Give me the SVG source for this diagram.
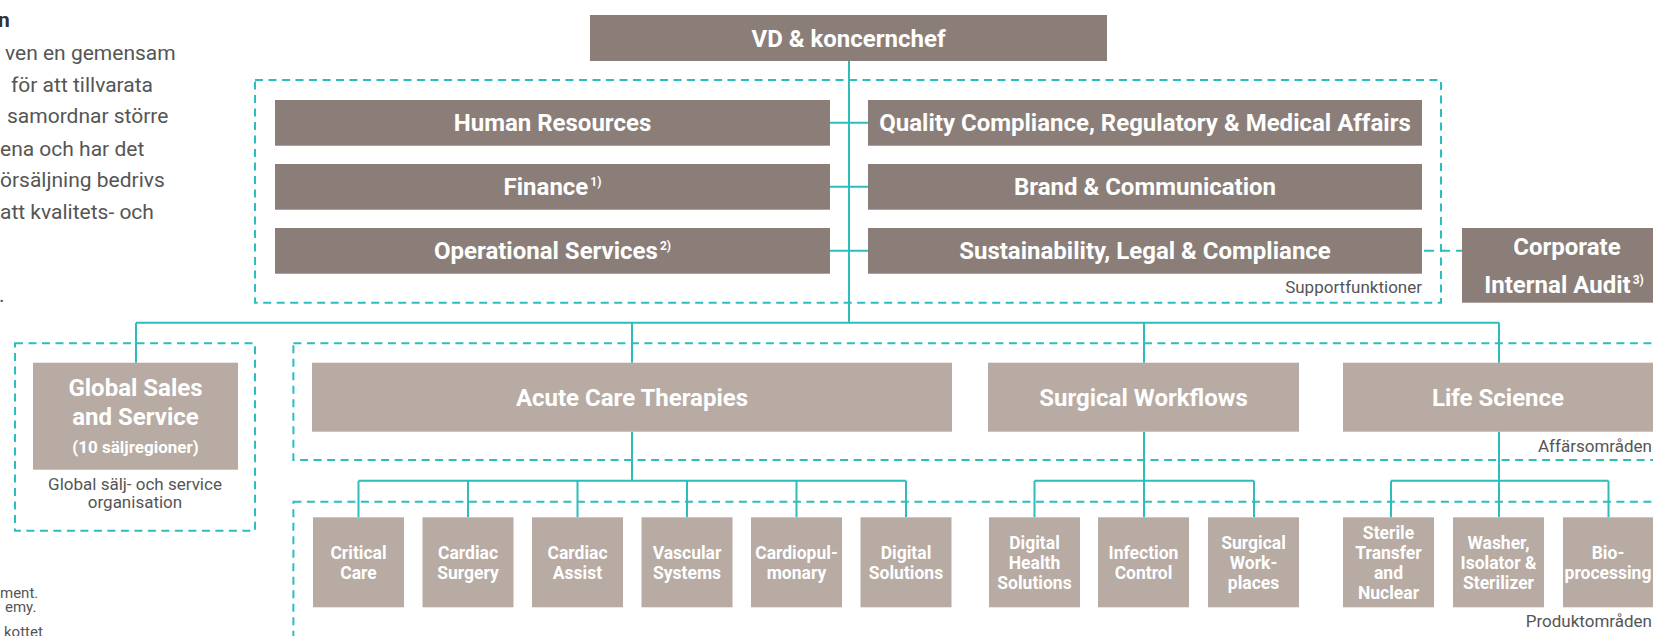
<svg xmlns="http://www.w3.org/2000/svg" width="1653" height="636" viewBox="0 0 1653 636">
<style>
.dk{fill:#8b7e78}
.lt{fill:#b8aba3}
.t{font-family:Roboto,"Liberation Sans",sans-serif;font-weight:700;fill:#fff;text-anchor:middle}
.b24{font-size:24px}
.b17{font-size:17.5px}
.sup{font-size:12px}
.g{font-family:Roboto,"Liberation Sans",sans-serif;fill:#555;font-size:17px}
.p{font-family:Roboto,"Liberation Sans",sans-serif;fill:#555;font-size:21px}
.f{font-family:Roboto,"Liberation Sans",sans-serif;fill:#555;font-size:15px}
.dash{fill:none;stroke:#2dbdbd;stroke-width:2;stroke-dasharray:8 5.5}
.ln{fill:none;stroke:#2dbdbd;stroke-width:2}
</style>
<rect width="1653" height="636" fill="#fff"/>
<g id="intro-text">
<text x="-2" y="27" class="p" style="font-weight:700;fill:#333">n</text>
<text x="5" y="60" class="p">ven en gemensam</text>
<text x="11" y="92" class="p">för att tillvarata</text>
<text x="7" y="123" class="p">samordnar större</text>
<text x="0" y="156" class="p">ena och har det</text>
<text x="0" y="187" class="p">örsäljning bedrivs</text>
<text x="0" y="219" class="p">att kvalitets- och</text>
<text x="-1" y="302" class="p">.</text>
</g>
<g id="footnotes">
<text x="0" y="598" class="f">ment.</text>
<text x="5" y="612" class="f">emy.</text>
<text x="4" y="637" class="f">kottet</text>
</g>
<g id="groups">
<rect x="255" y="80" width="1186" height="222.7" class="dash"/>
<rect x="15" y="343.3" width="240" height="187.4" class="dash"/>
<rect x="293.4" y="343.3" width="1380" height="116.7" class="dash"/>
<rect x="293.4" y="501.7" width="1380" height="160" class="dash"/>
<text x="1422" y="293" class="g" text-anchor="end">Supportfunktioner</text>
<text x="1652" y="452" class="g" text-anchor="end">Affärsområden</text>
<text x="1652" y="627" class="g" text-anchor="end">Produktområden</text>
</g>
<g id="connectors">
<path class="ln" d="M849,61V322.7M136,322.7H1499M136,322.7V362.7M632,322.7V362.7M1144,322.7V362.7M1499,322.7V362.7"/>
<path class="ln" d="M830,122.7H868M830,186.7H868M830,250.7H868"/>
<path class="ln" d="M632,431.7V480.7M358.5,480.7H906M358.5,480.7V517.3M468,480.7V517.3M577.5,480.7V517.3M687,480.7V517.3M796.5,480.7V517.3M906,480.7V517.3"/>
<path class="ln" d="M1144,431.7V480.7M1034.5,480.7H1254M1034.5,480.7V517.3M1144,480.7V517.3M1254,480.7V517.3"/>
<path class="ln" d="M1499,431.7V480.7M1391,480.7H1608.5M1391,480.7V517.3M1499,480.7V517.3M1608.5,480.7V517.3"/>
<path class="dash" d="M1424,250.7H1462" style="stroke-dasharray:10 6"/>
</g>
<g id="vd">
<rect x="590" y="15" width="517" height="46" class="dk"/>
<text x="848.5" y="46.5" class="t b24">VD &amp; koncernchef</text>
</g>
<g id="hr">
<rect x="275" y="100" width="555" height="45.7" class="dk"/>
<text x="552.5" y="131.4" class="t b24">Human Resources</text>
</g>
<g id="finance">
<rect x="275" y="164" width="555" height="45.7" class="dk"/>
<text x="552.5" y="195.4" class="t b24">Finance<tspan class="sup" dx="2" dy="-9">1)</tspan></text>
</g>
<g id="ops">
<rect x="275" y="228" width="555" height="45.7" class="dk"/>
<text x="552.5" y="259.4" class="t b24">Operational Services<tspan class="sup" dx="2" dy="-9">2)</tspan></text>
</g>
<g id="quality">
<rect x="868" y="100" width="554" height="45.7" class="dk"/>
<text x="1145" y="131.4" class="t b24">Quality Compliance, Regulatory &amp; Medical Affairs</text>
</g>
<g id="brand">
<rect x="868" y="164" width="554" height="45.7" class="dk"/>
<text x="1145" y="195.4" class="t b24">Brand &amp; Communication</text>
</g>
<g id="sustainability">
<rect x="868" y="228" width="554" height="45.7" class="dk"/>
<text x="1145" y="259.4" class="t b24">Sustainability, Legal &amp; Compliance</text>
</g>
<g id="audit">
<rect x="1462" y="228" width="220" height="74.7" class="dk"/>
<text x="1567" y="255" class="t b24">Corporate</text>
<text x="1564" y="293" class="t b24">Internal Audit<tspan class="sup" dx="2" dy="-9">3)</tspan></text>
</g>
<g id="global-sales">
<rect x="33" y="362.7" width="205" height="107" class="lt"/>
<text x="135.5" y="396" class="t b24">Global Sales</text>
<text x="135.5" y="425" class="t b24">and Service</text>
<text x="135.5" y="453" class="t" style="font-size:17px">(10 säljregioner)</text>
<text x="135" y="490" class="g" text-anchor="middle">Global sälj- och service</text>
<text x="135" y="508" class="g" text-anchor="middle">organisation</text>
</g>
<g id="act">
<rect x="312" y="362.7" width="640" height="69" class="lt"/>
<text x="632" y="405.7" class="t b24">Acute Care Therapies</text>
</g>
<g id="sw">
<rect x="988" y="362.7" width="311" height="69" class="lt"/>
<text x="1143.5" y="405.7" class="t b24">Surgical Workflows</text>
</g>
<g id="ls">
<rect x="1343" y="362.7" width="330" height="69" class="lt"/>
<text x="1498" y="405.7" class="t b24">Life Science</text>
</g>
<g id="critical-care">
<rect x="313" y="517.3" width="91" height="90" class="lt"/>
<text x="358.5" y="559" class="t b17">Critical</text><text x="358.5" y="579" class="t b17">Care</text>
</g>
<g id="cardiac-surgery">
<rect x="422.5" y="517.3" width="91" height="90" class="lt"/>
<text x="468" y="559" class="t b17">Cardiac</text><text x="468" y="579" class="t b17">Surgery</text>
</g>
<g id="cardiac-assist">
<rect x="532" y="517.3" width="91" height="90" class="lt"/>
<text x="577.5" y="559" class="t b17">Cardiac</text><text x="577.5" y="579" class="t b17">Assist</text>
</g>
<g id="vascular">
<rect x="641.5" y="517.3" width="91" height="90" class="lt"/>
<text x="687" y="559" class="t b17">Vascular</text><text x="687" y="579" class="t b17">Systems</text>
</g>
<g id="cardiopulmonary">
<rect x="751" y="517.3" width="91" height="90" class="lt"/>
<text x="796.5" y="559" class="t b17">Cardiopul-</text><text x="796.5" y="579" class="t b17">monary</text>
</g>
<g id="digital-solutions">
<rect x="860.5" y="517.3" width="91" height="90" class="lt"/>
<text x="906" y="559" class="t b17">Digital</text><text x="906" y="579" class="t b17">Solutions</text>
</g>
<g id="dhs">
<rect x="989" y="517.3" width="91" height="90" class="lt"/>
<text x="1034.5" y="549" class="t b17">Digital</text><text x="1034.5" y="569" class="t b17">Health</text><text x="1034.5" y="589" class="t b17">Solutions</text>
</g>
<g id="infection">
<rect x="1098" y="517.3" width="91" height="90" class="lt"/>
<text x="1143.5" y="559" class="t b17">Infection</text><text x="1143.5" y="579" class="t b17">Control</text>
</g>
<g id="workplaces">
<rect x="1208" y="517.3" width="91" height="90" class="lt"/>
<text x="1253.5" y="549" class="t b17">Surgical</text><text x="1253.5" y="569" class="t b17">Work-</text><text x="1253.5" y="589" class="t b17">places</text>
</g>
<g id="sterile">
<rect x="1343" y="517.3" width="91" height="90" class="lt"/>
<text x="1388.5" y="539" class="t b17">Sterile</text><text x="1388.5" y="559" class="t b17">Transfer</text><text x="1388.5" y="579" class="t b17">and</text><text x="1388.5" y="599" class="t b17">Nuclear</text>
</g>
<g id="washer">
<rect x="1453" y="517.3" width="91" height="90" class="lt"/>
<text x="1498.5" y="549" class="t b17">Washer,</text><text x="1498.5" y="569" class="t b17">Isolator &amp;</text><text x="1498.5" y="589" class="t b17">Sterilizer</text>
</g>
<g id="bioprocessing">
<rect x="1563" y="517.3" width="91" height="90" class="lt"/>
<text x="1608" y="559" class="t b17">Bio-</text><text x="1608" y="579" class="t b17">processing</text>
</g>
</svg>
